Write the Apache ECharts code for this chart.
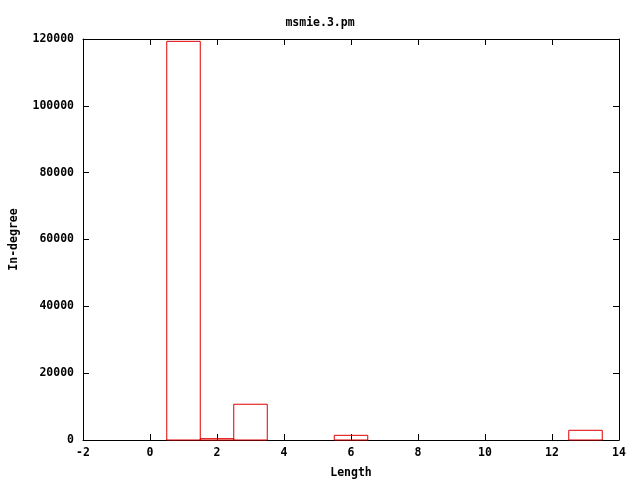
<!DOCTYPE html>
<html><head><meta charset="utf-8">
<script src="https://cdn.jsdelivr.net/npm/echarts@6/dist/echarts.min.js"></script>
<style>html,body{margin:0;padding:0;background:#fff}#c{width:640px;height:480px}</style>
</head><body><div id="c"></div>
<script>
const lengths = [1, 2, 3, 6, 13];
const inDegree = [119300, 400, 10700, 1400, 2900];
const chartTitle = 'msmie.3.pm';
const xName = 'Length';
const yName = 'In-degree';

const font = {fontFamily: 'DejaVu Sans Mono', fontWeight: 'bold', fontSize: 11.5, color: '#000'};
const chart = echarts.init(document.getElementById('c'), null, {renderer: 'canvas'});
const axisLineStyle = {show: true, lineStyle: {color: '#000', width: 1}};
const tickStyle = {show: true, inside: true, length: 6, lineStyle: {color: '#000', width: 1}};
const plain = v => String(v);
chart.setOption({
  animation: false,
  backgroundColor: '#fff',
  title: {text: chartTitle, left: 'center', top: 12, textStyle: Object.assign({}, font)},
  grid: {left: 83, right: 21, top: 39, bottom: 40, containLabel: false, outerBoundsMode: 'none'},
  xAxis: [
    {type: 'value', min: -2, max: 14, interval: 2, position: 'bottom',
     name: xName, nameLocation: 'middle', nameGap: 27, nameTextStyle: font,
     axisLine: Object.assign({onZero: false}, axisLineStyle), axisTick: tickStyle,
     axisLabel: Object.assign({margin: 7, formatter: plain}, font), splitLine: {show: false}},
    {type: 'value', min: -2, max: 14, interval: 2, position: 'top',
     axisLine: Object.assign({onZero: false}, axisLineStyle), axisTick: tickStyle,
     axisLabel: {show: false}, splitLine: {show: false}}
  ],
  yAxis: [
    {type: 'value', min: 0, max: 120000, interval: 20000, position: 'left',
     name: yName, nameLocation: 'middle', nameGap: 63, nameRotate: 90, nameTextStyle: font,
     axisLine: Object.assign({onZero: false}, axisLineStyle), axisTick: tickStyle,
     axisLabel: Object.assign({margin: 9, formatter: plain}, font), splitLine: {show: false}},
    {type: 'value', min: 0, max: 120000, interval: 20000, position: 'right',
     axisLine: Object.assign({onZero: false}, axisLineStyle), axisTick: tickStyle,
     axisLabel: {show: false}, splitLine: {show: false}}
  ],
  series: [{
    type: 'custom',
    xAxisIndex: 0, yAxisIndex: 0,
    data: lengths.map((x, i) => [x, inDegree[i]]),
    renderItem: function (params, api) {
      const x = api.value(0), y = api.value(1);
      const p0 = api.coord([x - 0.5, 0]);
      const p1 = api.coord([x + 0.5, y]);
      return {
        type: 'rect',
        shape: {x: p0[0], y: p1[1], width: p1[0] - p0[0], height: p0[1] - p1[1]},
        style: {fill: 'none', stroke: '#e00000', lineWidth: 1}
      };
    }
  }]
});
</script></body></html>
